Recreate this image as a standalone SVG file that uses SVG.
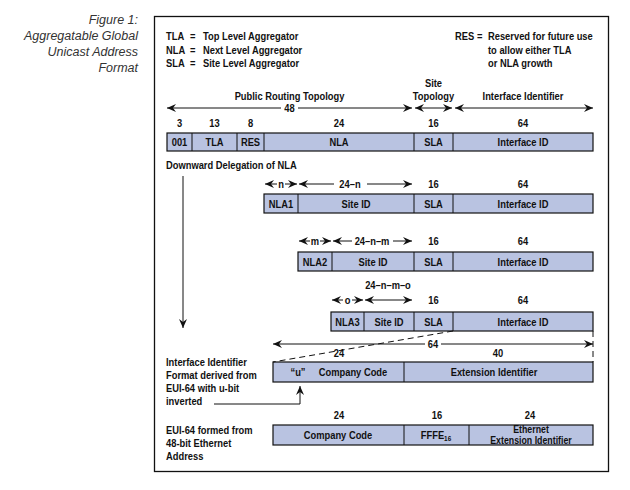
<svg xmlns="http://www.w3.org/2000/svg" width="630" height="490" viewBox="0 0 630 490">
<style>
.t{font-family:"Liberation Sans",Arial,sans-serif;font-weight:bold;font-size:11px;fill:#111}
.m{text-anchor:middle}
.sm{font-size:10px}
.cap{font-family:"Liberation Sans",Arial,sans-serif;font-style:italic;font-size:12.5px;fill:#333;text-anchor:end}
.box{fill:#b9c3e1;stroke:#111;stroke-width:1.2}
.div{stroke:#111;stroke-width:1}
.ar{stroke:#111;stroke-width:1;fill:none}
.s{marker-start:url(#ah)}
.e{marker-end:url(#ah)}
.d{stroke:#111;stroke-width:1;stroke-dasharray:6 4;fill:none}
</style>
<defs>
<marker id="ah" markerUnits="userSpaceOnUse" markerWidth="10" markerHeight="8" refX="9" refY="4" orient="auto-start-reverse">
<path d="M0,0 L9,4 L0,8 L3,4 z" fill="#111"/>
</marker>
</defs>
<rect width="630" height="490" fill="#fff"/>
<g id="caption">
<text class="cap" x="138" y="24">Figure 1:</text>
<text class="cap" x="138" y="40">Aggregatable Global</text>
<text class="cap" x="138" y="56">Unicast Address</text>
<text class="cap" x="138" y="72">Format</text>
</g>
<rect id="frame" x="154.5" y="16.5" width="454" height="455" fill="none" stroke="#111" stroke-width="1.3"/>
<g id="legend">
<text class="t" transform="translate(166,40) scale(.85,1)">TLA</text><text class="t" transform="translate(190,40) scale(.85,1)">=</text><text class="t" transform="translate(203,40) scale(.85,1)">Top Level Aggregator</text>
<text class="t" transform="translate(166,53.5) scale(.85,1)">NLA</text><text class="t" transform="translate(190,53.5) scale(.85,1)">=</text><text class="t" transform="translate(203,53.5) scale(.85,1)">Next Level Aggregator</text>
<text class="t" transform="translate(166,67) scale(.85,1)">SLA</text><text class="t" transform="translate(190,67) scale(.85,1)">=</text><text class="t" transform="translate(203,67) scale(.85,1)">Site Level Aggregator</text>
<text class="t" transform="translate(455,40) scale(.85,1)">RES</text><text class="t" transform="translate(477,40) scale(.85,1)">=</text><text class="t" transform="translate(488,40) scale(.85,1)">Reserved for future use</text>
<text class="t" transform="translate(488,53.5) scale(.85,1)">to allow either TLA</text>
<text class="t" transform="translate(488,67) scale(.85,1)">or NLA growth</text>
</g>
<g id="row1">
<text class="t m" transform="translate(289.5,100) scale(.85,1)">Public Routing Topology</text>
<text class="t m" transform="translate(433.5,87) scale(.85,1)">Site</text>
<text class="t m" transform="translate(433.5,100) scale(.85,1)">Topology</text>
<text class="t m" transform="translate(523,100) scale(.85,1)">Interface Identifier</text>
<text class="t m" transform="translate(289.5,112) scale(.85,1)">48</text>
<text class="t m" transform="translate(179.5,127) scale(.85,1)">3</text>
<text class="t m" transform="translate(214.5,127) scale(.85,1)">13</text>
<text class="t m" transform="translate(250.5,127) scale(.85,1)">8</text>
<text class="t m" transform="translate(339,127) scale(.85,1)">24</text>
<text class="t m" transform="translate(433.5,127) scale(.85,1)">16</text>
<text class="t m" transform="translate(523,127) scale(.85,1)">64</text>
<rect class="box" x="167" y="133" width="426" height="18"/>
<path class="div" d="M192,133V151M237,133V151M264,133V151M414,133V151M453,133V151"/>
<text class="t m" transform="translate(179.5,146) scale(.85,1)">001</text>
<text class="t m" transform="translate(214.5,146) scale(.85,1)">TLA</text>
<text class="t m" transform="translate(250.5,146) scale(.85,1)">RES</text>
<text class="t m" transform="translate(339,146) scale(.85,1)">NLA</text>
<text class="t m" transform="translate(433.5,146) scale(.85,1)">SLA</text>
<text class="t m" transform="translate(523,146) scale(.85,1)">Interface ID</text>
</g>
<text id="delegation" class="t" transform="translate(166,169) scale(.85,1)">Downward Delegation of NLA</text>
<g id="nla1">
<text class="t m" transform="translate(281,188) scale(.85,1)">n</text>
<text class="t m" transform="translate(350,188) scale(.85,1)">24–n</text>
<text class="t m" transform="translate(433.5,188) scale(.85,1)">16</text>
<text class="t m" transform="translate(523,188) scale(.85,1)">64</text>
<rect class="box" x="264" y="194" width="329" height="19"/>
<path class="div" d="M298,194V213M414,194V213M453,194V213"/>
<text class="t m" transform="translate(281,208) scale(.85,1)">NLA1</text>
<text class="t m" transform="translate(356,208) scale(.85,1)">Site ID</text>
<text class="t m" transform="translate(433.5,208) scale(.85,1)">SLA</text>
<text class="t m" transform="translate(523,208) scale(.85,1)">Interface ID</text>
</g>
<g id="nla2">
<text class="t m" transform="translate(315,245) scale(.85,1)">m</text>
<text class="t m" transform="translate(372,245) scale(.85,1)">24–n–m</text>
<text class="t m" transform="translate(433.5,245) scale(.85,1)">16</text>
<text class="t m" transform="translate(523,245) scale(.85,1)">64</text>
<rect class="box" x="298" y="252" width="295" height="19"/>
<path class="div" d="M332,252V271M414,252V271M453,252V271"/>
<text class="t m" transform="translate(315,266) scale(.85,1)">NLA2</text>
<text class="t m" transform="translate(373,266) scale(.85,1)">Site ID</text>
<text class="t m" transform="translate(433.5,266) scale(.85,1)">SLA</text>
<text class="t m" transform="translate(523,266) scale(.85,1)">Interface ID</text>
</g>
<g id="nla3">
<text class="t m" transform="translate(388,289) scale(.85,1)">24–n–m–o</text>
<text class="t m" transform="translate(347.5,304) scale(.85,1)">o</text>
<text class="t m" transform="translate(433.5,304) scale(.85,1)">16</text>
<text class="t m" transform="translate(523,304) scale(.85,1)">64</text>
<rect class="box" x="331" y="312" width="262" height="19"/>
<path class="div" d="M364,312V331M414,312V331M453,312V331"/>
<text class="t m" transform="translate(347.5,326) scale(.85,1)">NLA3</text>
<text class="t m" transform="translate(389,326) scale(.85,1)">Site ID</text>
<text class="t m" transform="translate(433.5,326) scale(.85,1)">SLA</text>
<text class="t m" transform="translate(523,326) scale(.85,1)">Interface ID</text>
</g>
<g id="ifid">
<text class="t" transform="translate(166,366) scale(.85,1)">Interface Identifier</text>
<text class="t" transform="translate(166,379) scale(.85,1)">Format derived from</text>
<text class="t" transform="translate(166,392) scale(.85,1)">EUI-64 with u-bit</text>
<text class="t" transform="translate(166,405) scale(.85,1)">inverted</text>
<text class="t m" transform="translate(433,348) scale(.85,1)">64</text>
<text class="t m" transform="translate(339,357) scale(.85,1)">24</text>
<text class="t m" transform="translate(498,357) scale(.85,1)">40</text>
<rect class="box" x="273" y="362" width="320" height="20"/>
<path class="div" d="M404,362V382"/>
<text class="t m" transform="translate(298,376) scale(.85,1)">“u”</text>
<text class="t m" transform="translate(353,376) scale(.85,1)">Company Code</text>
<text class="t m" transform="translate(494,376) scale(.85,1)">Extension Identifier</text>
</g>
<g id="eui64">
<text class="t" transform="translate(166,434) scale(.85,1)">EUI-64 formed from</text>
<text class="t" transform="translate(166,447) scale(.85,1)">48-bit Ethernet</text>
<text class="t" transform="translate(166,460) scale(.85,1)">Address</text>
<text class="t m" transform="translate(339,419) scale(.85,1)">24</text>
<text class="t m" transform="translate(437,419) scale(.85,1)">16</text>
<text class="t m" transform="translate(530,419) scale(.85,1)">24</text>
<rect class="box" x="273" y="425" width="320" height="20"/>
<path class="div" d="M404,425V445M469,425V445"/>
<text class="t m" transform="translate(338,439) scale(.85,1)">Company Code</text>
<text class="t m" transform="translate(436,439) scale(.85,1)">FFFE<tspan font-size="7.5px" dy="2">16</tspan></text>
<text class="t m sm" transform="translate(531,433) scale(.88,1)">Ethernet</text>
<text class="t m sm" transform="translate(531,443.5) scale(.88,1)">Extension Identifier</text>
</g>
<g id="connectors">
<path class="ar s" d="M167,108H281"/>
<path class="ar e" d="M298,108H412"/>
<path class="ar s e" d="M415,108H452"/>
<path class="ar s e" d="M455,108H593"/>
<path class="ar s" d="M265,184H277"/>
<path class="ar e" d="M285,184H297"/>
<path class="ar s" d="M299,184H334"/>
<path class="ar e" d="M367,184H412"/>
<path class="ar s" d="M299,241H310"/>
<path class="ar e" d="M320,241H331"/>
<path class="ar s" d="M333,241H352"/>
<path class="ar e" d="M393,241H412"/>
<path class="ar s" d="M332,300H343"/>
<path class="ar e" d="M352,300H363"/>
<path class="ar s e" d="M365,300H412"/>
<path class="ar e" d="M183,176V328"/>
<path class="d" d="M453,331L273,362M593,331V362"/>
<path class="ar s" d="M273,344H425"/>
<path class="ar e" d="M441,344H593"/>
<path class="ar e" d="M214,404H300V386"/>
</g>
</svg>
